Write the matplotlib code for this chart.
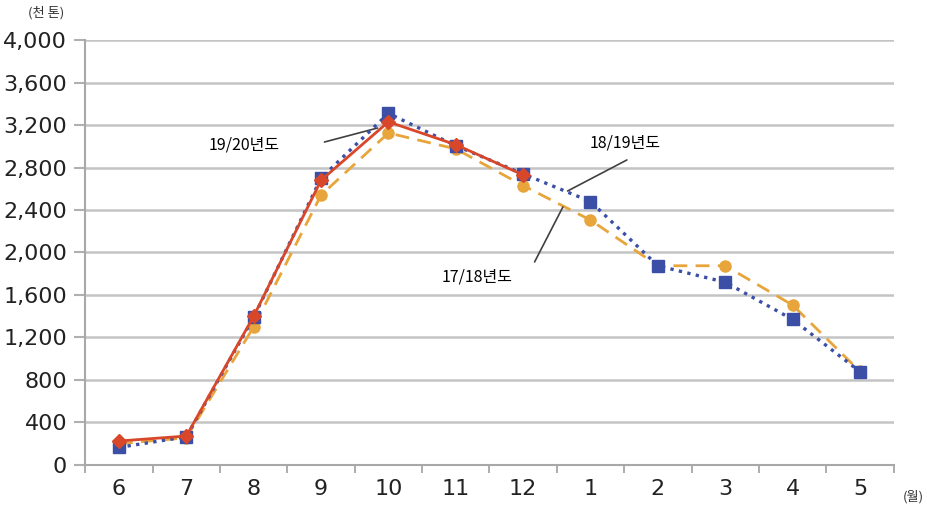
import numpy as np
import matplotlib.pyplot as plt
from matplotlib import font_manager

# data (thousand tonnes)
months = ['6', '7', '8', '9', '10', '11', '12', '1', '2', '3', '4', '5']
yr_1718 = [200, 255, 1300, 2540, 3125, 2975, 2630, 2305, 1875, 1875, 1505, 880]
yr_1819 = [165, 265, 1390, 2700, 3310, 3005, 2740, 2480, 1875, 1720, 1370, 878]
yr_1920 = [225, 272, 1400, 2680, 3230, 3015, 2730]
y_ticks = [0, 400, 800, 1200, 1600, 2000, 2400, 2800, 3200, 3600, 4000]

names = {f.name for f in font_manager.fontManager.ttflist}
num_font = 'Liberation Sans Narrow' if 'Liberation Sans Narrow' in names else 'DejaVu Sans Condensed'
kr_font = ['Noto Sans CJK KR', 'DejaVu Sans']

fig = plt.figure(figsize=(9.27, 5.07), dpi=100)
ax = fig.add_axes([0.092, 0.083, 0.872, 0.838])

x = np.arange(len(months))
ax.plot(x[:len(yr_1718)], yr_1718, color='#e8a53c', linestyle=(0, (5, 3)), linewidth=2,
        marker='o', markersize=8, zorder=3)
ax.plot(x[:len(yr_1819)], yr_1819, color='#3b4fa6', linestyle=(0, (1, 1.6)), linewidth=2.4,
        marker='s', markersize=8, zorder=4)
ax.plot(x[:len(yr_1920)], yr_1920, color='#d8472a', linestyle='-', linewidth=2,
        marker='D', markersize=7, zorder=5)

ax.set_xlim(-0.5, len(months) - 0.5)
ax.set_ylim(0, 4000)
ax.set_yticks(y_ticks)
ax.set_yticklabels([f'{v:,}' for v in y_ticks], fontsize=16, family=num_font, color='#222222')
ax.set_xticks(x)
ax.set_xticklabels(months, fontsize=16, family=num_font, color='#222222')
ax.set_xticks(np.arange(-0.5, len(months)), minor=True)
ax.tick_params(axis='x', which='major', length=0, pad=10)
ax.tick_params(axis='x', which='minor', length=6, color='#a0a0a0', width=1.2)
ax.tick_params(axis='y', length=8, color='#b0b0b0', width=1.5, pad=5)
ax.grid(axis='y', color='#c4c4c4', linewidth=1.8, zorder=0)
ax.set_axisbelow(True)
for side in ['top', 'right']:
    ax.spines[side].set_visible(False)
for side in ['left', 'bottom']:
    ax.spines[side].set_color('#a8a8a8')
    ax.spines[side].set_linewidth(1.5)

# series labels and their leader lines
leader = dict(arrowstyle='-', color='#404040', lw=1.2, shrinkA=0, shrinkB=0)
ax.text(1.86, 3010, '19/20년도', fontsize=11.5, family=kr_font, ha='center', va='center')
ax.annotate('', xy=(3.84, 3172), xytext=(3.05, 3040), arrowprops=leader)
ax.text(7.51, 3030, '18/19년도', fontsize=11.5, family=kr_font, ha='center', va='center')
ax.annotate('', xy=(7.54, 2871), xytext=(6.66, 2579), arrowprops=leader)
ax.text(5.32, 1769, '17/18년도', fontsize=11.5, family=kr_font, ha='center', va='center')
ax.annotate('', xy=(6.59, 2428), xytext=(6.17, 1911), arrowprops=leader)

fig.text(0.050, 0.975, '(천 톤)', fontsize=9.5, family=kr_font, ha='center', va='center',
         color='#333333')
fig.text(0.985, 0.02, '(월)', fontsize=9.5, family=kr_font, ha='center', va='center',
         color='#333333')

fig.savefig('out.png', dpi=100)
